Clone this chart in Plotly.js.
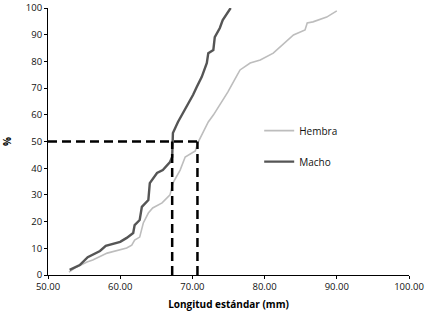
<!DOCTYPE html>
<html>
<head>
<meta charset="utf-8">
<script src="https://cdn.plot.ly/plotly-3.0.1.min.js"></script>
<style>html,body{margin:0;padding:0;background:#fff;}#chart{width:430px;height:317px;}</style>
</head>
<body>
<div id="chart"></div>
<script>
// Hembra (female) cumulative distribution
var hembraX = [52.9, 53.7, 55.4, 56.2, 58.2, 59.7, 60.9, 61.6, 62.0, 62.7, 63.0, 63.2, 63.9, 64.5, 65.8, 66.9, 67.3, 68.3, 69.0, 70.1, 70.4, 70.8, 71.5, 72.2, 72.9, 73.8, 74.9, 76.2, 76.6, 78.0, 79.4, 81.2, 82.8, 84.0, 85.6, 85.9, 86.7, 88.6, 90.0];
var hembraY = [1.1, 2.6, 4.9, 5.6, 8.2, 9.4, 10.1, 11.2, 13.1, 14.2, 16.9, 19.5, 23.2, 25.1, 27.0, 30.0, 34.4, 39.3, 44.2, 46.1, 46.5, 49.8, 53.6, 57.3, 59.9, 63.7, 68.5, 74.9, 76.8, 79.4, 80.5, 83.1, 86.9, 89.9, 91.8, 94.4, 94.8, 96.6, 98.9];
// Macho (male) cumulative distribution
var machoX = [53.0, 54.4, 55.5, 57.2, 58.0, 60.0, 60.9, 61.8, 62.0, 62.7, 63.0, 63.9, 64.1, 65.1, 65.9, 66.9, 67.2, 67.2, 67.3, 68.0, 68.7, 69.2, 69.7, 70.1, 70.6, 71.3, 72.0, 72.2, 72.9, 73.1, 73.8, 74.2, 75.3];
var machoY = [1.9, 3.7, 6.7, 9.0, 10.9, 12.4, 13.9, 15.7, 18.7, 20.6, 25.5, 28.1, 34.4, 38.2, 39.3, 42.3, 44.2, 50.0, 53.2, 57.3, 60.7, 63.0, 65.5, 67.5, 70.4, 74.2, 79.4, 83.1, 84.3, 89.1, 92.5, 95.5, 100.0];
// Median (50%) reference lines
var medianLevel = 50;
var medianMacho = 67.2;
var medianHembra = 70.7;
var xMin = 50;
var seriesNames = ["Hembra", "Macho"];
var xTickVals = [50, 60, 70, 80, 90, 100];
var xTickText = ["50.00", "60.00", "70.00", "80.00", "90.00", "100.00"];
var yTickVals = [0, 10, 20, 30, 40, 50, 60, 70, 80, 90, 100];

var dashStyle = {color: "#000", width: 2.5, dash: "9px,5px"};
var traces = [
  {x: hembraX, y: hembraY, name: seriesNames[0], mode: "lines", legendgroup: "h",
   line: {color: "#bdbdbd", width: 1.6}},
  {x: machoX, y: machoY, name: seriesNames[1], mode: "lines", legendgroup: "m",
   line: {color: "#555555", width: 2.4}},
  {x: [xMin, medianHembra], y: [medianLevel, medianLevel], mode: "lines", showlegend: false, line: dashStyle, hoverinfo: "skip"},
  {x: [medianMacho, medianMacho], y: [0, medianLevel], mode: "lines", showlegend: false, line: dashStyle, hoverinfo: "skip"},
  {x: [medianHembra, medianHembra], y: [0, medianLevel], mode: "lines", showlegend: false, line: dashStyle, hoverinfo: "skip"}
];

var font = {family: "Open Sans, sans-serif", size: 9.5, color: "#111"};
var layout = {
  width: 430, height: 317,
  margin: {l: 48, r: 21, t: 8, b: 42, pad: 0},
  paper_bgcolor: "#fff", plot_bgcolor: "#fff",
  font: font,
  showlegend: true,
  legend: {x: 0.585, y: 0.595, xanchor: "left", yanchor: "top", bgcolor: "rgba(0,0,0,0)",
           font: {family: "Open Sans, sans-serif", size: 10, color: "#111"},
           tracegroupgap: 12, traceorder: "grouped", itemwidth: 30},
  xaxis: {range: [50, 100], tickvals: xTickVals, ticktext: xTickText,
          showgrid: false, zeroline: false, showline: true, linecolor: "#000", linewidth: 1,
          ticks: "outside", ticklen: 3, tickcolor: "#000", tickfont: font,
          title: {text: "Longitud estándar (mm)", font: {family: "Open Sans, sans-serif", size: 10, color: "#000", weight: "bold"}, standoff: 8}},
  yaxis: {range: [0, 100], tickvals: yTickVals,
          showgrid: false, zeroline: false, showline: true, linecolor: "#000", linewidth: 1,
          ticks: "outside", ticklen: 3, tickcolor: "#000", tickfont: font,
          title: {text: "%", font: {family: "Open Sans, sans-serif", size: 10, color: "#000", weight: "bold"}, standoff: 12}}
};
Plotly.newPlot("chart", traces, layout, {displayModeBar: false, staticPlot: true});
</script>
</body>
</html>
